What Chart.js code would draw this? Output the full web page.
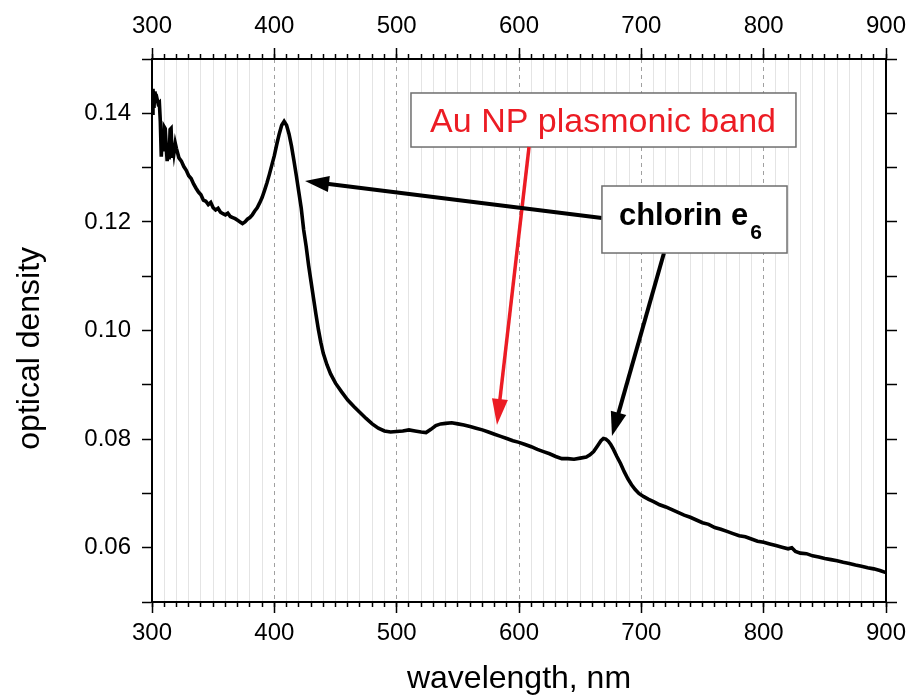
<!DOCTYPE html>
<html>
<head>
<meta charset="utf-8">
<script src="https://cdn.jsdelivr.net/npm/chart.js@4/dist/chart.umd.min.js"></script>
<style>
  html, body { margin: 0; padding: 0; background: #fff; }
  canvas { display: block; }
</style>
</head>
<body>
<canvas id="spectrum" width="910" height="699"></canvas>
<script>
// Absorption spectrum (wavelength in nm, optical density)
const wavelengths = [
  300.0, 300.8, 301.6, 302.4, 303.2, 304.0, 305.0, 306.0, 306.8, 307.6,
  308.4, 309.2, 310.0, 310.8, 311.6, 312.4, 313.2, 314.0, 314.8, 315.6,
  316.4, 317.2, 318.0, 319.0, 320.0, 322, 324, 326, 328, 330,
  332, 334, 336, 338, 340, 342, 344, 346, 348, 350,
  352, 354, 356, 358, 360, 362, 364, 366, 368, 370,
  372, 374, 376, 378, 380, 382, 384, 386, 388, 390,
  392, 394, 396, 398, 400, 402, 404, 406, 408, 410,
  412, 414, 416, 418, 420, 422, 424, 426, 428, 430,
  432, 434, 436, 438, 440, 443, 446, 450, 455, 460,
  465, 470, 475, 480, 485, 490, 495, 500, 505, 510,
  515, 520, 524, 528, 532, 536, 540, 545, 550, 555,
  560, 565, 570, 575, 580, 585, 590, 595, 600, 605,
  610, 615, 620, 625, 630, 635, 640, 645, 650, 655,
  658, 661, 664, 667, 669, 671, 673, 675, 677, 680,
  683, 686, 689, 692, 695, 698, 702, 706, 710, 715,
  720, 725, 730, 735, 740, 745, 750, 755, 760, 765,
  770, 775, 780, 785, 790, 795, 800, 805, 810, 815,
  820, 823, 826, 830, 835, 840, 845, 850, 855, 860,
  865, 870, 875, 880, 885, 890, 895, 900
];
const opticalDensity = [
  0.1400, 0.1445, 0.1410, 0.1440, 0.1425, 0.1428, 0.1418, 0.1420, 0.1385, 0.1320,
  0.1365, 0.1330, 0.1375, 0.1372, 0.1340, 0.1312, 0.1345, 0.1315, 0.1370, 0.1372,
  0.1318, 0.1345, 0.1328, 0.1345, 0.1335, 0.1318, 0.1312, 0.1302, 0.1295, 0.1285,
  0.1280, 0.1270, 0.1262, 0.1255, 0.1250, 0.1240, 0.1238, 0.1232, 0.1236, 0.1226,
  0.1222, 0.1225, 0.1218, 0.1215, 0.1213, 0.1216, 0.1210, 0.1208, 0.1206, 0.1203,
  0.1200, 0.1197, 0.1200, 0.1205, 0.1208, 0.1213, 0.1220, 0.1226, 0.1235, 0.1245,
  0.1258, 0.1272, 0.1288, 0.1305, 0.1322, 0.1343, 0.1362, 0.1378, 0.1385, 0.1378,
  0.1362, 0.1340, 0.1313, 0.1285, 0.1255, 0.1225, 0.1185, 0.1155, 0.1120, 0.1090,
  0.1060, 0.1030, 0.1002, 0.0978, 0.0958, 0.0937, 0.0920, 0.0903, 0.0887, 0.0872,
  0.0860, 0.0849, 0.0838, 0.0828, 0.0820, 0.0815, 0.0813, 0.0814, 0.0815, 0.0817,
  0.0815, 0.0813, 0.0812, 0.0818, 0.0825, 0.0828, 0.0829, 0.0830, 0.0828, 0.0826,
  0.0823, 0.0820, 0.0817, 0.0813, 0.0809, 0.0805, 0.0801, 0.0797, 0.0794, 0.0790,
  0.0786, 0.0781, 0.0777, 0.0773, 0.0768, 0.0764, 0.0764, 0.0763, 0.0765, 0.0767,
  0.0771, 0.0777, 0.0787, 0.0797, 0.0801, 0.0800, 0.0796, 0.0790, 0.0782, 0.0768,
  0.0755, 0.0740, 0.0727, 0.0716, 0.0707, 0.0700, 0.0694, 0.0689, 0.0685, 0.0679,
  0.0675, 0.0670, 0.0665, 0.0660, 0.0656, 0.0651, 0.0646, 0.0643, 0.0637, 0.0634,
  0.0630, 0.0626, 0.0622, 0.0620, 0.0616, 0.0612, 0.0610, 0.0607, 0.0604, 0.0601,
  0.0598, 0.0600, 0.0593, 0.0590, 0.0589, 0.0585, 0.0583, 0.0580, 0.0578, 0.0576,
  0.0573, 0.0571, 0.0568, 0.0566, 0.0563, 0.0561, 0.0558, 0.0554
];

// Axis ranges and steps
const xRange = [300, 900];
const yRange = [0.05, 0.15];
const xMajorStep = 100;
const xMinorStep = 10;
const yStep = 0.01;

// Annotation texts
const plasmonText = "Au NP plasmonic band";
const chlorinText = "chlorin e";
const chlorinSub = "6";

const FONT = "'Liberation Sans', Arial, sans-serif";

// Draw the labelled boxes and arrows, anchored in data units
const annotations = {
  id: "annotations",
  afterDatasetsDraw(chart) {
    const { ctx, scales } = chart;
    const px = v => scales.x.getPixelForValue(v);
    const py = v => scales.y.getPixelForValue(v);

    function box(x0, y0, x1, y1) {
      const l = px(x0), t = py(y0), r = px(x1), b = py(y1);
      ctx.fillStyle = "#fff";
      ctx.fillRect(l, t, r - l, b - t);
      ctx.strokeStyle = "#6e6e6e";
      ctx.lineWidth = 1.5;
      ctx.strokeRect(l, t, r - l, b - t);
    }

    function arrow(x0, y0, x1, y1, color, width, headLen, headHalf) {
      const sx = px(x0), sy = py(y0), tx = px(x1), ty = py(y1);
      const ang = Math.atan2(ty - sy, tx - sx);
      const bx = tx - headLen * Math.cos(ang), by = ty - headLen * Math.sin(ang);
      ctx.strokeStyle = color;
      ctx.lineWidth = width;
      ctx.beginPath();
      ctx.moveTo(sx, sy);
      ctx.lineTo(bx + 2 * Math.cos(ang), by + 2 * Math.sin(ang));
      ctx.stroke();
      ctx.fillStyle = color;
      ctx.beginPath();
      ctx.moveTo(tx, ty);
      ctx.lineTo(bx + headHalf * Math.sin(ang), by - headHalf * Math.cos(ang));
      ctx.lineTo(bx - headHalf * Math.sin(ang), by + headHalf * Math.cos(ang));
      ctx.closePath();
      ctx.fill();
    }

    ctx.save();
    // Au NP box + red arrow
    box(511.7, 0.14374, 826.4, 0.13379);
    arrow(608.2, 0.13379, 582, 0.0826, "#ec1c24", 3.5, 26, 8);
    ctx.fillStyle = "#ec1c24";
    ctx.font = "34px " + FONT;
    ctx.textAlign = "center";
    ctx.textBaseline = "alphabetic";
    ctx.fillText(plasmonText, px(668.7), py(0.13656));

    // chlorin e6 box + black arrows
    arrow(667.8, 0.12072, 425.1, 0.12753, "#000", 4, 24, 8);
    arrow(718.5, 0.11427, 676, 0.08057, "#000", 4, 24, 8);
    box(667.8, 0.12661, 819.1, 0.11427);
    ctx.fillStyle = "#000";
    ctx.textAlign = "left";
    ctx.font = "bold 31px " + FONT;
    const tx = px(681.7), ty = py(0.11943);
    ctx.fillText(chlorinText, tx, ty);
    const w = ctx.measureText(chlorinText).width;
    ctx.font = "bold 21px " + FONT;
    ctx.fillText(chlorinSub, tx + w + 2, py(0.11685));
    ctx.restore();
  }
};

const black = "#000";

// keep the frame edges fixed: no extra side padding for end labels
function fixHeight(h) {
  return s => { s.height = h; s.paddingLeft = 0; s.paddingRight = 0; };
}

new Chart(document.getElementById("spectrum"), {
  type: "line",
  data: {
    datasets: [{
      data: wavelengths.map((w, i) => ({ x: w, y: opticalDensity[i] })),
      borderColor: black,
      borderWidth: 3.6,
      pointRadius: 0,
      tension: 0,
      fill: false
    }]
  },
  options: {
    responsive: false,
    animation: false,
    layout: { padding: 0 },
    plugins: { legend: { display: false }, tooltip: { enabled: false } },
    scales: {
      // minor ticks + light grid, bottom
      xMinor: {
        type: "linear", position: "bottom", weight: 0,
        min: xRange[0], max: xRange[1],
        ticks: { display: false, stepSize: xMinorStep, autoSkip: false },
        grid: {
          color: c => (c.tick && c.tick.value % xMajorStep === 0) ? "rgba(0,0,0,0)" : "#e4e4e4",
          tickColor: black, tickLength: 5, tickWidth: 1.5, lineWidth: 1
        },
        border: { display: true, color: black, width: 2 },
        afterFit: fixHeight(0)
      },
      x: {
        type: "linear", position: "bottom", weight: 1,
        min: xRange[0], max: xRange[1],
        ticks: { stepSize: xMajorStep, autoSkip: false, maxRotation: 0, color: black, padding: 6,
                 font: { family: FONT, size: 24 } },
        grid: {
          color: c => (c.tick && c.tick.value > xRange[0] && c.tick.value < xRange[1]) ? "#a0a0a0" : "rgba(0,0,0,0)",
          tickColor: black, tickLength: 11, tickWidth: 1.5, lineWidth: 1, tickBorderDash: []
        },
        border: { display: false, dash: [4, 4] },
        title: { display: true, text: "wavelength, nm", color: black,
                 font: { family: FONT, size: 32 }, padding: { top: 0, bottom: 1 } },
        afterFit: fixHeight(97)
      },
      // top axis
      x2Minor: {
        type: "linear", position: "top", weight: 0,
        min: xRange[0], max: xRange[1],
        ticks: { display: false, stepSize: xMinorStep, autoSkip: false },
        grid: { drawOnChartArea: false, tickColor: black, tickLength: 5, tickWidth: 1.5 },
        border: { display: true, color: black, width: 2 },
        afterFit: fixHeight(0)
      },
      x2: {
        type: "linear", position: "top", weight: 1,
        min: xRange[0], max: xRange[1],
        ticks: { stepSize: xMajorStep, autoSkip: false, maxRotation: 0, color: black, padding: 7,
                 font: { family: FONT, size: 24 } },
        grid: { drawOnChartArea: false, tickColor: black, tickLength: 11, tickWidth: 1.5 },
        border: { display: false },
        afterFit: fixHeight(59)
      },
      y: {
        type: "linear", position: "left",
        min: yRange[0], max: yRange[1],
        ticks: {
          stepSize: yStep, autoSkip: false, color: black, padding: 11,
          font: { family: FONT, size: 24 },
          callback: v => (Math.round(v * 100) % 2 === 0) ? v.toFixed(2) : ""
        },
        grid: { drawOnChartArea: false, tickColor: black, tickLength: 10, tickWidth: 1.5 },
        border: { display: true, color: black, width: 2 },
        title: { display: true, text: "optical density    ", color: black,
                 font: { family: FONT, size: 32 }, padding: { top: 11, bottom: 0 } },
        afterFit: s => { s.width = 152; }
      },
      y2: {
        type: "linear", position: "right",
        min: yRange[0], max: yRange[1],
        ticks: { display: false, stepSize: yStep, autoSkip: false },
        grid: { drawOnChartArea: false, tickColor: black, tickLength: 11, tickWidth: 1.5 },
        border: { display: true, color: black, width: 2 },
        afterFit: s => { s.width = 24; }
      }
    }
  },
  plugins: [annotations]
});
</script>
</body>
</html>
